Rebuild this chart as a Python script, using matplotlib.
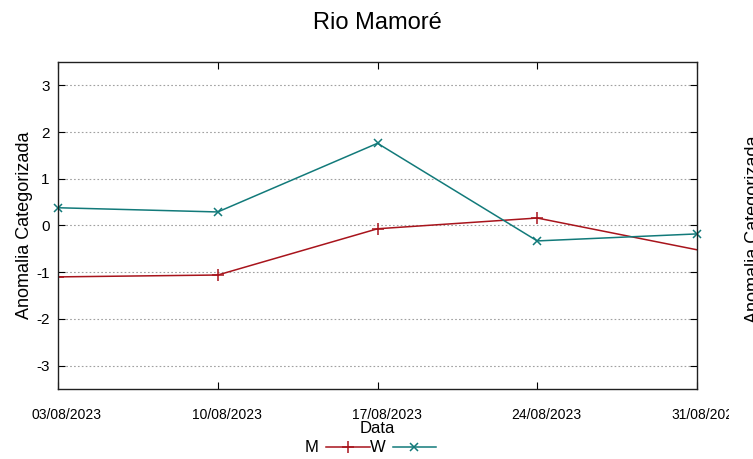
import matplotlib
matplotlib.use("Agg")
import matplotlib.pyplot as plt
from matplotlib.transforms import Bbox, TransformedBbox, ScaledTranslation

# dados
datas = ["03/08/2023", "10/08/2023", "17/08/2023", "24/08/2023", "31/08/2023"]
anom_m = [-1.10, -1.06, -0.07, 0.16, -0.52]
anom_w = [0.38, 0.29, 1.76, -0.33, -0.18]
yticks = [-3, -2, -1, 0, 1, 2, 3]

cor_m = "#a8141c"
cor_w = "#127a7a"

plt.rcParams["font.family"] = ["Liberation Sans", "DejaVu Sans"]

fig = plt.figure(figsize=(7.53, 4.59), dpi=100)
ax = fig.add_axes([58 / 753, 1 - 389 / 459, (697 - 58) / 753, (389 - 62) / 459])

x = list(range(len(datas)))
ax.plot(x, anom_m, color=cor_m, lw=1.1, marker="+", ms=9, mew=1.1,
        markevery=[0, 1, 2, 3], label="M")
ax.plot(x, anom_w, color=cor_w, lw=1.1, marker="x", ms=6, mew=1.1,
        label="W", clip_on=False)

ax.set_xlim(0, 4)
ax.set_ylim(-3.5, 3.5)
ax.set_yticks(yticks)
ax.set_yticklabels([str(v) for v in yticks], fontsize=11)
ax.set_xticks(x)
ax.set_xticklabels(datas, fontsize=10)
ax.tick_params(axis="x", direction="in", top=True, length=5, pad=14)
ax.tick_params(axis="y", direction="in", right=True, length=5, pad=6)
ax.grid(axis="y", linestyle=(0, (1.5, 2)), color="#a0a0a0", lw=0.8)
for s in ax.spines.values():
    s.set_linewidth(1.0)
    s.set_color("#202020")

ax.set_title("Rio Mamoré", fontsize=17, pad=24)
ax.set_ylabel("Anomalia Categorizada", fontsize=13, labelpad=2)
ax.set_xlabel("Data", fontsize=12, labelpad=-1)

# rotulos das datas ficam um pouco a direita dos ticks
desloc = ScaledTranslation(9 / 100, 0, fig.dpi_scale_trans)
for lab in ax.get_xticklabels():
    lab.set_transform(lab.get_transform() + desloc)

# o ultimo rotulo aparece cortado na imagem original
clip = TransformedBbox(Bbox([[0, 0], [729 / 753, 1]]), fig.transFigure)
lab = ax.get_xticklabels()[-1]
lab.set_clip_on(True)
lab.set_clip_box(clip)

leg = fig.legend(loc="lower center", bbox_to_anchor=(0.492, -0.025), ncol=2,
                 frameon=False, markerfirst=False, handlelength=2.6,
                 handletextpad=0.45, columnspacing=0.0,
                 prop={"size": 12})

# rotulo do painel vizinho, quase fora da figura
fig.text(753 / 753, 0.5, "Anomalia Categorizada", rotation=90, fontsize=13,
         ha="center", va="center")

fig.savefig("out.png", dpi=100)
